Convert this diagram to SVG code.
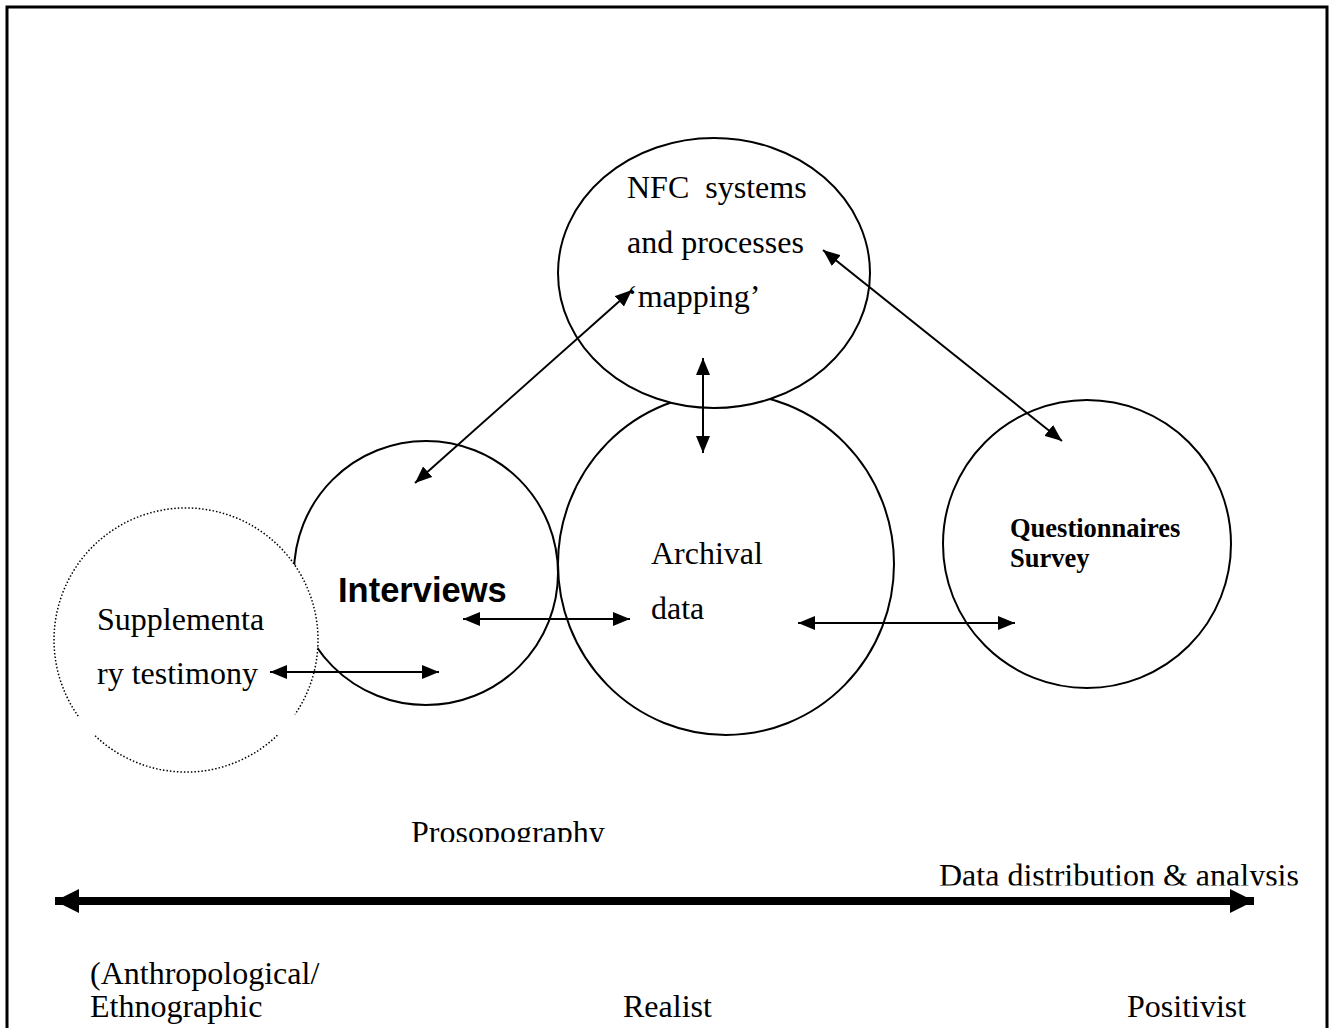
<svg xmlns="http://www.w3.org/2000/svg" width="1335" height="1028" viewBox="0 0 1335 1028">
<defs>
<marker id="ah" viewBox="0 0 17 14" refX="17" refY="7" markerWidth="17" markerHeight="14" markerUnits="userSpaceOnUse" orient="auto-start-reverse">
<path d="M0,0 L17,7 L0,14 Z" fill="#000"/>
</marker>
<marker id="bh" viewBox="0 0 24 24" refX="24" refY="12" markerWidth="24" markerHeight="24" markerUnits="userSpaceOnUse" orient="auto-start-reverse">
<path d="M0,0 L24,12 L0,24 Z" fill="#000"/>
</marker>
<clipPath id="clipPro"><rect x="380" y="800" width="300" height="42"/></clipPath>
<clipPath id="clipData"><rect x="900" y="850" width="420" height="35.5"/></clipPath>
</defs>
<style>
.c{fill:none;stroke:#000;stroke-width:2}
.cw{fill:#fff;stroke:#000;stroke-width:2}
.dot{fill:none;stroke:#000;stroke-width:1.5;stroke-dasharray:1.5 2}
.t{font-family:"Liberation Serif","Times New Roman",serif;font-size:32px;fill:#000}
.conn line{stroke:#000;stroke-width:2;marker-start:url(#ah);marker-end:url(#ah)}
</style>
<rect width="1335" height="1028" fill="#fff"/>
<path d="M7,1028 V7 H1327 V1028" fill="none" stroke="#000" stroke-width="3"/>

<g id="archival"><ellipse class="c" cx="726" cy="564" rx="168" ry="171"/>
<text class="t" x="651" y="564">Archival</text><text class="t" x="651" y="619">data</text></g>
<g id="nfc"><ellipse class="cw" cx="714" cy="273" rx="156" ry="135"/>
<text class="t" x="627" y="198" xml:space="preserve">NFC  systems</text>
<text class="t" x="627" y="253">and processes</text>
<text class="t" x="627" y="307">‘mapping’</text></g>
<g id="interviews"><circle class="c" cx="426" cy="573" r="132"/>
<text x="338" y="602" font-family="'Liberation Sans',Arial,sans-serif" font-weight="bold" font-size="34.5">Interviews</text></g>
<g id="supplementary"><circle cx="186" cy="640" r="132" fill="#fff"/>
<path class="dot" d="M277.4,735.3 A132,132 0 0 1 94.6,735.3"/>
<path class="dot" d="M78.2,716.1 A132,132 0 1 1 295.0,714.4"/>
<text class="t" x="97" y="630">Supplementa</text><text class="t" x="97" y="684">ry testimony</text></g>
<g id="questionnaires"><circle class="c" cx="1087" cy="544" r="144"/>
<text x="1010" y="537" font-family="'Liberation Serif','Times New Roman',serif" font-weight="bold" font-size="26.5">Questionnaires</text>
<text x="1010" y="567" font-family="'Liberation Serif','Times New Roman',serif" font-weight="bold" font-size="26.5">Survey</text></g>

<g id="connectors" class="conn">
<line x1="415" y1="483" x2="632" y2="290"/>
<line x1="823" y1="250" x2="1062" y2="441"/>
<line x1="703" y1="358" x2="703" y2="453"/>
<line x1="463" y1="619" x2="630" y2="619"/>
<line x1="270" y1="672" x2="439" y2="672"/>
<line x1="798" y1="623" x2="1015" y2="623"/>
<line x1="55" y1="901" x2="1254" y2="901" style="stroke-width:8;marker-start:url(#bh);marker-end:url(#bh)"/>
</g>

<g id="labels">
<text class="t" x="411" y="843" clip-path="url(#clipPro)">Prosopography</text>
<text class="t" x="939" y="886" clip-path="url(#clipData)">Data distribution &amp; analysis</text>
<text class="t" x="90" y="984">(Anthropological/</text>
<text class="t" x="90" y="1017">Ethnographic</text>
<text class="t" x="623" y="1017">Realist</text>
<text class="t" x="1127" y="1017">Positivist</text>
</g>
</svg>
